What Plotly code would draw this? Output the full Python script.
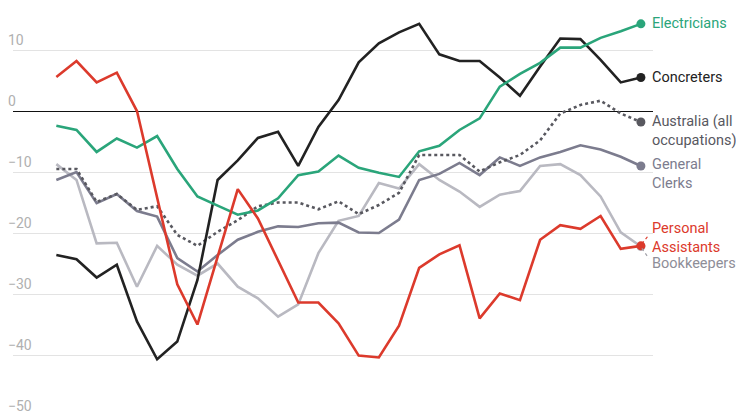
import plotly.graph_objects as go

# 30 periods (percentage change)
periods = list(range(30))

electricians = [-2.4, -3.1, -6.7, -4.5, -6.0, -4.1, -9.5, -14.0, -15.5, -17.0,
                -16.3, -14.3, -10.5, -9.9, -7.3, -9.3, -10.1, -10.8, -6.6, -5.7,
                -3.1, -1.2, 4.0, 6.1, 7.9, 10.4, 10.4, 12.0, 13.1, 14.3]
concreters = [-23.6, -24.3, -27.3, -25.2, -34.5, -40.7, -37.8, -27.7, -11.3, -8.1,
              -4.4, -3.4, -9.0, -2.6, 1.8, 8.0, 11.1, 12.9, 14.3, 9.3,
              8.2, 8.2, 5.5, 2.5, 7.3, 11.9, 11.8, 8.4, 4.7, 5.5]
australia = [-9.5, -9.5, -14.9, -13.6, -16.2, -15.6, -20.3, -22.1, -19.8, -17.9,
             -15.6, -15.0, -15.0, -16.1, -14.8, -16.9, -15.4, -13.4, -7.2, -7.2,
             -7.2, -9.9, -8.4, -7.2, -4.8, -0.4, 1.0, 1.7, -0.4, -1.8]
general_clerks = [-11.3, -10.0, -15.1, -13.6, -16.4, -17.3, -24.1, -26.3, -23.6, -21.1,
                  -19.8, -18.9, -19.0, -18.4, -18.3, -19.9, -20.0, -17.8, -11.3, -10.3,
                  -8.5, -10.5, -7.6, -9.0, -7.6, -6.7, -5.6, -6.3, -7.5, -9.0]
personal_assistants = [5.6, 8.2, 4.7, 6.3, 0.0, -14.0, -28.4, -35.0, -24.0, -12.8,
                       -17.6, -24.4, -31.4, -31.4, -34.8, -40.1, -40.4, -35.2, -25.7, -23.5,
                       -22.0, -34.0, -29.9, -31.0, -21.1, -18.7, -19.3, -17.2, -22.6, -22.1]
bookkeepers = [-8.7, -11.3, -21.7, -21.6, -28.8, -22.1, -25.2, -27.0, -25.0, -28.8,
               -30.7, -33.7, -31.7, -23.3, -18.0, -17.2, -11.8, -12.7, -8.7, -11.3,
               -13.2, -15.7, -13.7, -13.1, -9.0, -8.7, -10.5, -14.0, -19.9, -22.2]

y_ticks = [10, 0, -10, -20, -30, -40, -50]

GREEN = "#2aa57a"
BLACK = "#222222"
DARK = "#58585f"
CLERK = "#7c7c8e"
RED = "#dc3a2c"
LIGHT = "#b9b9c1"

series = [
    ("Bookkeepers", bookkeepers, LIGHT, "solid"),
    ("General Clerks", general_clerks, CLERK, "solid"),
    ("Australia (all occupations)", australia, DARK, "dot"),
    ("Concreters", concreters, BLACK, "solid"),
    ("Electricians", electricians, GREEN, "solid"),
    ("Personal Assistants", personal_assistants, RED, "solid"),
]

fig = go.Figure()
for name, vals, color, dash in series:
    fig.add_trace(go.Scatter(
        x=periods, y=vals, mode="lines", name=name,
        line=dict(color=color, width=2.6, dash=dash),
        hoverinfo="skip",
    ))
    fig.add_trace(go.Scatter(
        x=[periods[-1]], y=[vals[-1]], mode="markers",
        marker=dict(color=color, size=9),
        hoverinfo="skip",
    ))

# labels at the end of each line: (text, series, colour, yshift)
labels = [
    ("Electricians", electricians, GREEN, 0),
    ("Concreters", concreters, BLACK, 0),
    ("Australia (all<br>occupations)", australia, DARK, -8.5),
    ("General<br>Clerks", general_clerks, CLERK, -8.5),
    ("Personal<br>Assistants", personal_assistants, RED, 8),
    ("Bookkeepers", bookkeepers, "#8e8e98", -17),
]
for text, vals, color, ys in labels:
    fig.add_annotation(
        x=periods[-1], y=vals[-1], text=text, showarrow=False,
        xanchor="left", yanchor="middle", align="left",
        xshift=9, yshift=ys,
        font=dict(family="Roboto", size=14.5, color=color),
    )

# little dotted leaders for the two labels that share an end point
fig.add_shape(type="line", xref="x", yref="y",
              xsizemode="pixel", ysizemode="pixel",
              xanchor=periods[-1], yanchor=personal_assistants[-1],
              x0=1, y0=2, x1=8, y1=11,
              line=dict(color=RED, width=1.2, dash="dot"))
fig.add_shape(type="line", xref="x", yref="y",
              xsizemode="pixel", ysizemode="pixel",
              xanchor=periods[-1], yanchor=bookkeepers[-1],
              x0=1, y0=-2, x1=8, y1=-12,
              line=dict(color="#a0a0a8", width=1.2, dash="dot"))

# page body adds an 8px offset, so the figure is 8px smaller than the window
fig.update_layout(
    width=736, height=410,
    margin=dict(l=0, r=91, t=0, b=2),
    paper_bgcolor="white", plot_bgcolor="white",
    showlegend=False,
    font=dict(family="Roboto"),
    xaxis=dict(range=[-2.15, 29.6], visible=False),
    yaxis=dict(
        range=[-50, 16.9], tickvals=y_ticks,
        showgrid=True, gridcolor="#e3e3e3", gridwidth=1,
        zeroline=True, zerolinecolor="#111111", zerolinewidth=1.3,
        ticklabelposition="inside top", ticks="", ticklabelstandoff=-8,
        tickfont=dict(family="Roboto", size=14, color="#b0b0b0"),
        showline=False,
    ),
)

fig.write_html("out.html")
